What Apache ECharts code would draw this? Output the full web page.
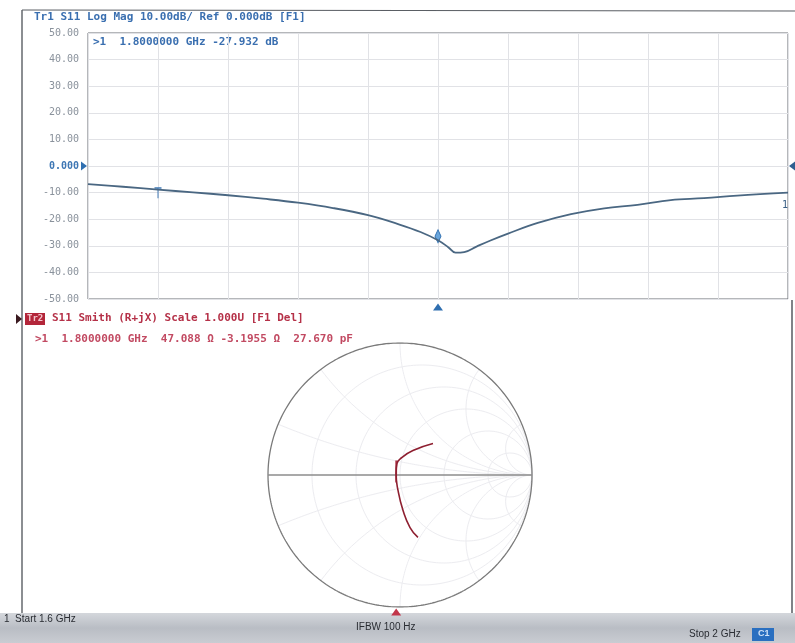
<!DOCTYPE html>
<html>
<head>
<meta charset="utf-8">
<script src="https://cdn.jsdelivr.net/npm/echarts@6/dist/echarts.min.js"></script>
<style>
html,body{margin:0;padding:0;background:#fff;}
#chart{width:795px;height:643px;}
</style>
</head>
<body>
<div id="chart"></div>
<script>
// ---- Data ----
const freqGHz = [1.600, 1.620, 1.640, 1.660, 1.680, 1.700, 1.720, 1.740, 1.760, 1.778, 1.790, 1.800, 1.806, 1.810, 1.815, 1.822, 1.830, 1.840, 1.857, 1.876, 1.895, 1.914, 1.933, 1.952, 1.971, 2.000];
const s11dB   = [-6.8, -7.8, -8.9, -9.9, -11.0, -12.3, -13.8, -15.8, -18.5, -22.0, -24.8, -27.9, -30.6, -32.6, -32.4, -30.3, -28.0, -25.4, -21.4, -18.1, -15.9, -14.6, -12.8, -12.1, -11.1, -10.0];
const yTicks  = [50, 40, 30, 20, 10, 0, -10, -20, -30, -40, -50];

// Smith chart trace (reflection coefficient, real / imaginary), 1.6 GHz -> 2 GHz
const smithRe = [0.136, 0.076, 0.023, -0.015, -0.030, -0.023, 0.015, 0.098, 0.250];
const smithIm = [-0.473, -0.398, -0.269, -0.117, 0.011, 0.087, 0.133, 0.186, 0.239];

// Marker 1
const markerFreq = 1.8;
const markerDb = -27.932;
const markerR = 47.088;
const markerX = -3.1955;
const z0 = 50;
const tStepFreq = 1.64;

// Smith grid values (normalized resistance / reactance)
const gridR = [0.2, 0.5, 1, 2, 5];
const gridX = [0.2, 0.5, 1, 2, 5];

// ---- Helpers ----
function gammaOf(r, x) {
  const d = (r + 1) * (r + 1) + x * x;
  return [(r * r + x * x - 1) / d, (2 * x) / d];
}
const traceData = freqGHz.map((f, i) => [f, s11dB[i]]);
const smithData = smithRe.map((re, i) => [re, smithIm[i]]);
const markerGamma = gammaOf(markerR / z0, markerX / z0);

const smithGridSeries = [];
function addGridLine(pts, color, width) {
  smithGridSeries.push({
    type: 'line', xAxisIndex: 1, yAxisIndex: 1, data: pts, showSymbol: false, silent: true,
    lineStyle: { color: color, width: width }, z: 1, animation: false
  });
}
// constant resistance circles
gridR.forEach(r => {
  const pts = [];
  for (let i = 0; i <= 240; i++) {
    const t = -Math.PI / 2 + 0.0001 + (Math.PI - 0.0002) * i / 240;
    pts.push(gammaOf(r, Math.tan(t)));
  }
  addGridLine(pts, '#ececf0', 1);
});
// constant reactance arcs
gridX.forEach(x => {
  [x, -x].forEach(xx => {
    const pts = [];
    for (let i = 0; i <= 200; i++) {
      const t = (Math.PI / 2 - 0.0002) * i / 200;
      pts.push(gammaOf(Math.tan(t), xx));
    }
    addGridLine(pts, '#ececf0', 1);
  });
});
// outer circle (r = 0)
{
  const pts = [];
  for (let i = 0; i <= 360; i++) {
    const a = 2 * Math.PI * i / 360;
    pts.push([Math.cos(a), Math.sin(a)]);
  }
  addGridLine(pts, '#7a7a7a', 1.3);
}
// real axis
addGridLine([[-1, 0], [1, 0]], '#8c8c8c', 1.3);

const mono = '"DejaVu Sans Mono", "Liberation Mono", monospace';
const sans = '"Liberation Sans", Arial, sans-serif';

const chart = echarts.init(document.getElementById('chart'));
const option = {
  backgroundColor: '#ffffff',
  animation: false,
  grid: [
    { left: 88, top: 33, width: 700, height: 266, show: true, borderColor: '#6b6f75', borderWidth: 1, backgroundColor: '#fff' },
    { left: 268, top: 343, width: 264, height: 264 }
  ],
  xAxis: [
    { type: 'value', gridIndex: 0, min: 1.6, max: 2.0, interval: 0.04,
      axisLine: { show: false }, axisTick: { show: false }, axisLabel: { show: false },
      splitLine: { show: true, lineStyle: { color: '#e1e2e6', width: 1 } } },
    { type: 'value', gridIndex: 1, min: -1, max: 1, show: false }
  ],
  yAxis: [
    { type: 'value', gridIndex: 0, min: -50, max: 50, interval: 10,
      axisLine: { show: false }, axisTick: { show: false },
      splitLine: { show: true, lineStyle: { color: '#e1e2e6', width: 1 } },
      axisLabel: {
        margin: 9, fontFamily: mono, fontSize: 10, color: '#8a929c',
        formatter: v => v === 0 ? '{z|0.000}' : v.toFixed(2),
        rich: { z: { fontFamily: mono, fontSize: 10, color: '#3f78b5', fontWeight: 'bold' } }
      } },
    { type: 'value', gridIndex: 1, min: -1, max: 1, show: false }
  ],
  series: [
    {
      type: 'line', xAxisIndex: 0, yAxisIndex: 0, data: traceData, smooth: 0.4, showSymbol: false,
      lineStyle: { color: '#4a6782', width: 1.8 }, z: 5,
      markPoint: {
        silent: true,
        data: [
          { coord: [markerFreq, markerDb], symbol: 'diamond', symbolSize: [6, 13], symbolOffset: [0, -4],
            itemStyle: { color: '#6aa6dc', borderColor: '#2f6fb0', borderWidth: 1 }, label: { show: false } },
          { coord: [tStepFreq, -8.9], symbol: 'path://M0,0 L10,0 L10,1.4 L5.7,1.4 L5.7,10 L4.3,10 L4.3,1.4 L0,1.4 Z',
            symbolSize: [7, 11], symbolOffset: [0, 3], itemStyle: { color: '#3f78b5' }, label: { show: false } },
          { coord: [markerFreq, -50], symbol: 'triangle', symbolSize: [10, 7], symbolOffset: [0, 8],
            itemStyle: { color: '#2f6fb0' }, label: { show: false } },
          { coord: [1.6, 0], symbol: 'triangle', symbolRotate: -90, symbolSize: [9, 6], symbolOffset: [-4, 0],
            itemStyle: { color: '#2f6fb0' }, label: { show: false } },
          { coord: [2.0, 0], symbol: 'triangle', symbolRotate: 90, symbolSize: [9, 6], symbolOffset: [4, 0],
            itemStyle: { color: '#2f5f90' }, label: { show: false } }
        ]
      }
    },
    ...smithGridSeries,
    {
      type: 'line', xAxisIndex: 1, yAxisIndex: 1, data: smithData, smooth: 0.5, showSymbol: false,
      lineStyle: { color: '#8e1f30', width: 1.6 }, z: 6,
      markPoint: {
        silent: true,
        data: [
          { coord: markerGamma, symbol: 'rect', symbolSize: [1.8, 22], symbolOffset: [0, -8],
            itemStyle: { color: '#b0394d' }, label: { show: false } },
          { coord: [markerGamma[0], -1], symbol: 'triangle', symbolSize: [10, 7], symbolOffset: [0, 5],
            itemStyle: { color: '#c2364a' }, label: { show: false } }
        ]
      }
    }
  ],
  graphic: [
    // outer frame
    { type: 'line', shape: { x1: 22, y1: 10, x2: 795, y2: 11 }, style: { stroke: '#5a5e64', lineWidth: 1.2 }, silent: true },
    { type: 'line', shape: { x1: 22, y1: 10, x2: 22, y2: 614 }, style: { stroke: '#5a5e64', lineWidth: 1.4 }, silent: true },
    { type: 'line', shape: { x1: 792, y1: 300, x2: 792, y2: 614 }, style: { stroke: '#4a4e54', lineWidth: 1.4 }, silent: true },
    // top panel title
    { type: 'text', left: 34, top: 12, silent: true,
      style: { text: 'Tr1 S11 Log Mag 10.00dB/ Ref 0.000dB [F1]', fill: '#3a6fb0', font: 'bold 11px ' + mono } },
    { type: 'text', left: 93, top: 37, silent: true,
      style: { text: '>1  1.8000000 GHz -27.932 dB', fill: '#3a6fb0', font: 'bold 11px ' + mono } },
    { type: 'text', left: 782, top: 200, silent: true,
      style: { text: '1', fill: '#3a5f85', font: '10px ' + mono } },
    // bottom panel title
    { type: 'polygon', shape: { points: [[16, 314], [22, 319], [16, 324]] }, style: { fill: '#3a1a20' }, silent: true },
    { type: 'rect', shape: { x: 25, y: 313, width: 20, height: 12 }, style: { fill: '#b3263a' }, silent: true },
    { type: 'text', left: 27, top: 314, silent: true,
      style: { text: 'Tr2', fill: '#f4c4cc', font: 'bold 9px ' + mono } },
    { type: 'text', left: 52, top: 313, silent: true,
      style: { text: 'S11 Smith (R+jX) Scale 1.000U [F1 Del]', fill: '#b53148', font: 'bold 11px ' + mono } },
    { type: 'text', left: 35, top: 334, silent: true,
      style: { text: '>1  1.8000000 GHz  47.088 Ω -3.1955 Ω  27.670 pF', fill: '#c24a62', font: 'bold 11px ' + mono } },
    // bottom status bar
    { type: 'rect', shape: { x: 0, y: 613, width: 795, height: 30 }, silent: true,
      style: { fill: new echarts.graphic.LinearGradient(0, 0, 0, 1, [
        { offset: 0, color: '#d4d7dc' }, { offset: 0.5, color: '#b9bdc4' }, { offset: 1, color: '#c9ccd2' }]) } },
    { type: 'text', left: 4, top: 614, silent: true,
      style: { text: '1  Start 1.6 GHz', fill: '#2a2d33', font: '10px ' + sans } },
    { type: 'text', left: 356, top: 622, silent: true,
      style: { text: 'IFBW 100 Hz', fill: '#2a2d33', font: '10px ' + sans } },
    { type: 'text', left: 689, top: 629, silent: true,
      style: { text: 'Stop 2 GHz', fill: '#2a2d33', font: '10px ' + sans } },
    { type: 'rect', shape: { x: 752, y: 628, width: 22, height: 13 }, style: { fill: '#2a6fc0' }, silent: true },
    { type: 'text', left: 758, top: 629, silent: true,
      style: { text: 'C1', fill: '#cfe2f7', font: 'bold 9px ' + sans } }
  ]
};
chart.setOption(option);
</script>
</body>
</html>
